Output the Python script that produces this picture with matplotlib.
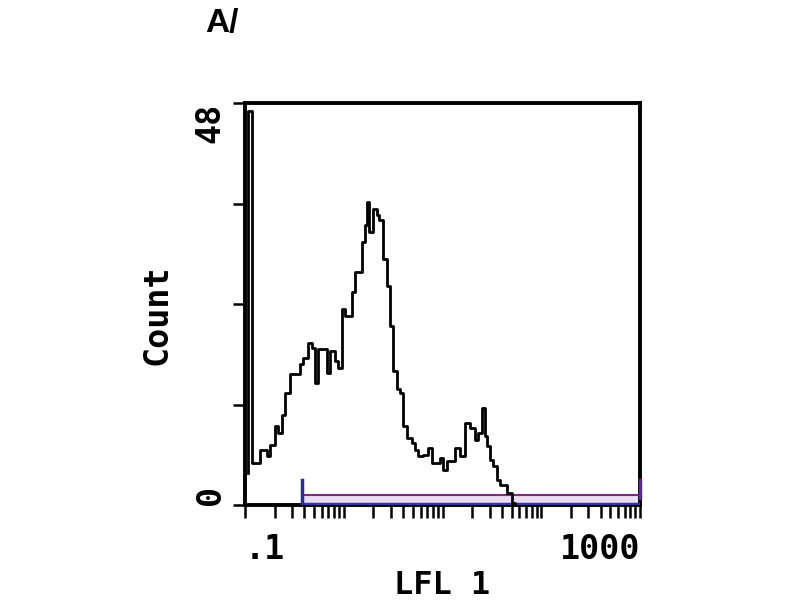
import matplotlib
matplotlib.use("Agg")
import matplotlib.pyplot as plt
from matplotlib.ticker import LogLocator, NullFormatter

# histogram: left bin edge (LFL 1) and count
lfl1 = [0.1075, 0.108, 0.117, 0.142, 0.166, 0.179, 0.201, 0.217, 0.235, 0.254,
        0.286, 0.361, 0.389, 0.438, 0.473, 0.511, 0.552, 0.672, 0.726, 0.815,
        0.881, 0.953, 1.03, 1.20, 1.30, 1.52, 1.64, 1.71, 1.82, 1.96,
        2.16, 2.29, 2.52, 2.72, 2.94, 3.18, 3.44, 3.71, 4.01, 4.34,
        4.87, 5.27, 5.69, 6.40, 7.18, 7.78, 9.44, 10.2, 11.0, 13.4,
        15.0, 16.9, 19.0, 21.3, 23.1, 24.9, 26.9, 28.0, 30.3, 32.7,
        35.4, 38.2, 44.7, 50.2, 54.2]
count = [3.8, 47, 5.0, 6.6, 5.8, 7.2, 9.4, 8.6, 10.8, 13.4,
         15.6, 16.8, 17.6, 19.4, 18.8, 14.6, 18.6, 15.8, 18.4, 17.2,
         16.4, 23.4, 22.6, 25.4, 27.8, 31.4, 33.4, 36.2, 32.6, 35.3,
         34.6, 34.0, 29.4, 26.2, 21.4, 16.0, 13.8, 13.4, 9.4, 8.0,
         7.4, 6.6, 5.8, 6.0, 6.8, 5.0, 5.6, 4.2, 5.2, 6.8,
         5.8, 9.8, 9.2, 7.8, 8.6, 11.6, 8.2, 7.0, 5.4, 4.6,
         3.0, 2.4, 1.4, 0.2, 0.0]

# marker gate
gate_lo = 0.374
gate_hi = 1000
gate_h = 1.2

xticks = [0.1, 1, 10, 100, 1000]
xlabels = [".1", "", "", "", "1000"]
yticks = [0, 12, 24, 36, 48]
ylabels = ["0", "", "", "", "48"]

mono = "DejaVu Sans Mono"

fig = plt.figure(figsize=(8, 6), dpi=100)
ax = fig.add_axes([245 / 800, 95 / 600, 395 / 800, 402 / 600])

ax.step(lfl1, count, where="post", color="black", lw=2.0, zorder=4)

# gate bar
ax.fill_between([gate_lo, gate_hi], 0, gate_h, color="#eadcf3", zorder=2)
ax.plot([gate_lo, gate_hi], [gate_h, gate_h], color="#7a2c78", lw=1.5, zorder=3)
ax.plot([gate_lo, gate_hi], [0.15, 0.15], color="#3434a4", lw=2.5, zorder=3)
ax.plot([gate_lo, gate_lo], [0, 3], color="#2c2c9c", lw=2.5, zorder=3)
ax.plot([gate_hi, gate_hi], [0.8, 3], color="#5a2a8a", lw=2.5, zorder=3, clip_on=False)

ax.set_xscale("log")
ax.set_xlim(0.1, 1000)
ax.set_ylim(0, 48)

ax.set_xticks(xticks)
ax.set_xticklabels(xlabels, fontfamily=mono, fontweight="bold", fontsize=24)
ax.xaxis.set_minor_locator(LogLocator(base=10, subs=range(2, 10)))
ax.xaxis.set_minor_formatter(NullFormatter())
for lab, ha in zip(ax.get_xticklabels(), ["left", "center", "center", "center", "right"]):
    lab.set_ha(ha)

ax.set_yticks(yticks)
ax.set_yticklabels(ylabels, fontfamily=mono, fontweight="bold", fontsize=24,
                   rotation=90)
labs = ax.get_yticklabels()
labs[0].set_va("bottom")
labs[-1].set_va("top")
for lab in labs:
    lab.set_ha("center")

ax.tick_params(axis="x", which="both", direction="out", length=9, width=1.8,
               pad=11, top=False)
ax.tick_params(axis="y", direction="out", length=9, width=1.8, pad=16, right=False)

for sp in ax.spines.values():
    sp.set_linewidth(2.8)

ax.set_xlabel("LFL 1", fontfamily=mono, fontweight="bold", fontsize=23)
ax.xaxis.set_label_coords(0.5, -0.162)
ax.set_ylabel("Count", fontfamily=mono, fontweight="bold", fontsize=24)
ax.yaxis.set_label_coords(-0.182, 0.473)

fig.text(205 / 800, 1 - 32 / 600, "A/", fontfamily="Liberation Sans",
         fontweight="bold", fontsize=24, ha="left", va="baseline")

fig.savefig("out.png", dpi=100)
